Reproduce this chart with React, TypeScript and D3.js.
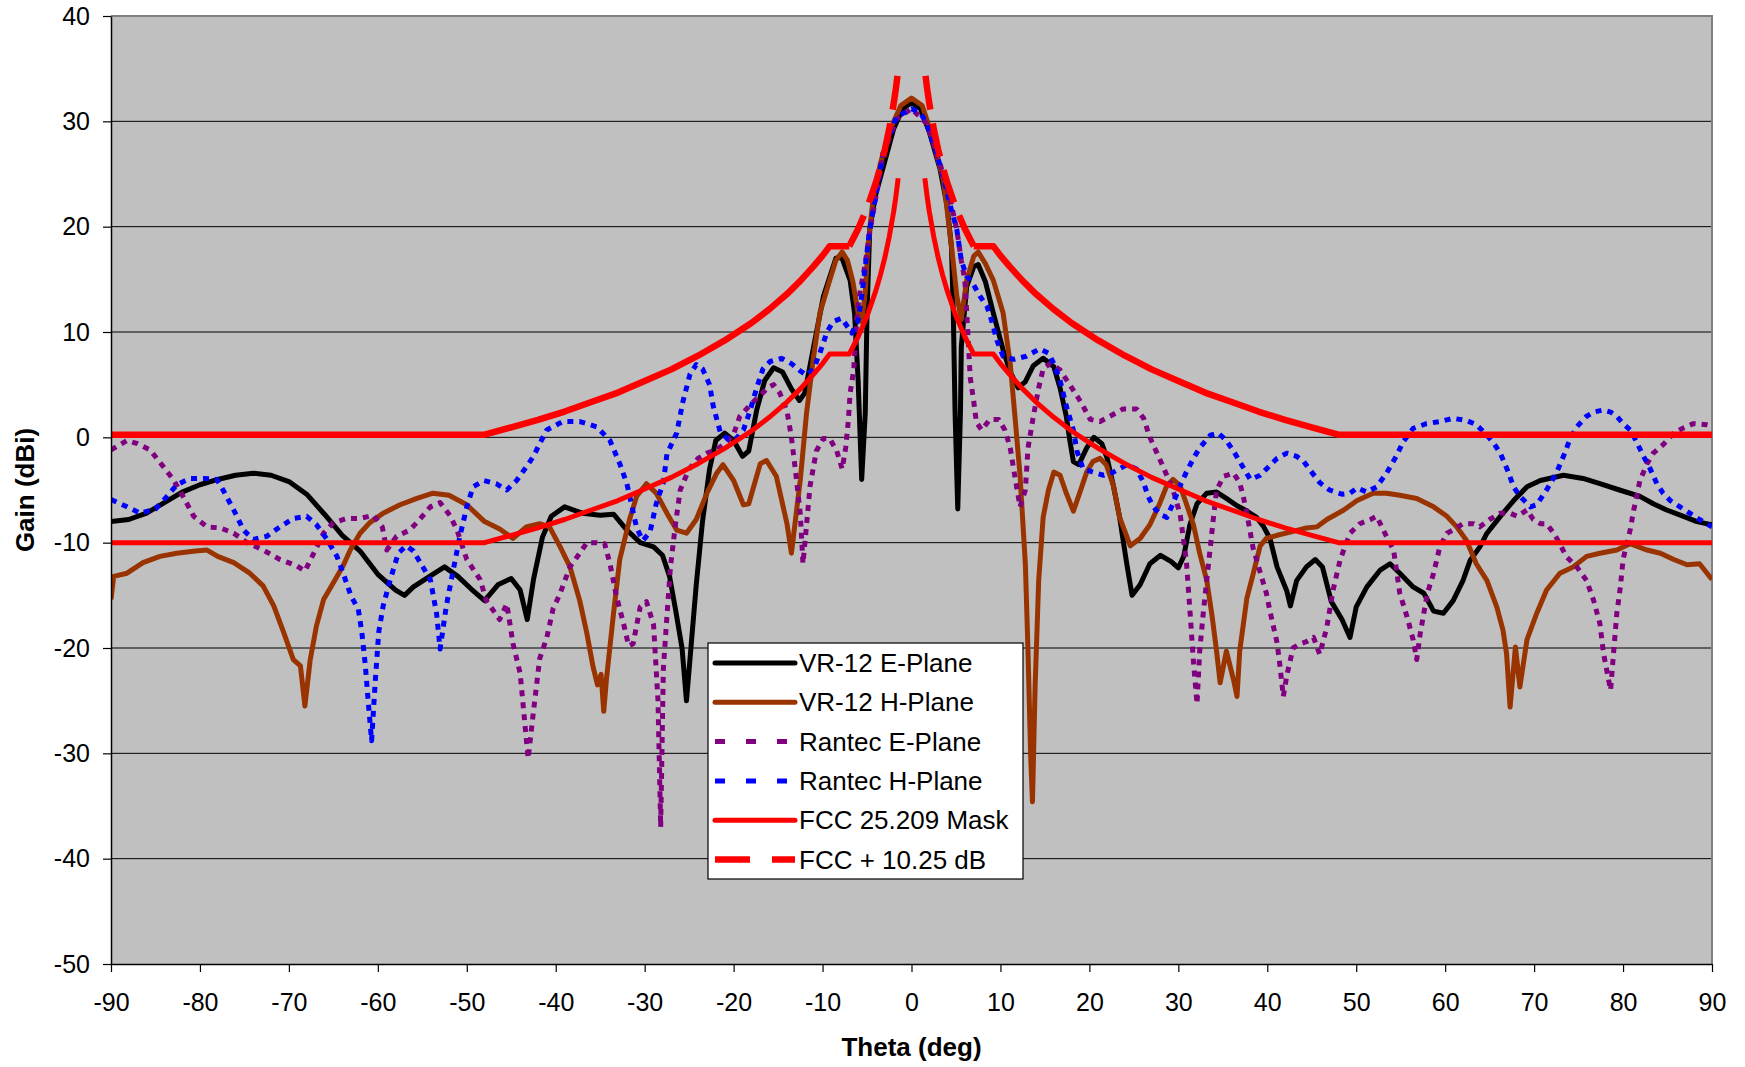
import React, { useEffect, useRef } from "react";
import * as d3 from "d3";

const thetaTicks = [-90, -80, -70, -60, -50, -40, -30, -20, -10, 0, 10, 20, 30, 40, 50, 60, 70, 80, 90];
const gainTicks = [-50, -40, -30, -20, -10, 0, 10, 20, 30, 40];

// [theta (deg), gain (dBi)]
const vr12EPlane: [number, number][] = [
  [-90, -8], [-88, -7.8], [-86, -7.2], [-84, -6.2], [-82, -5.2], [-80, -4.5], [-78, -4.0], [-76, -3.6], [-74, -3.4],
  [-72, -3.6], [-70, -4.2], [-68, -5.4], [-66, -7.3], [-64, -9.3], [-62, -10.8], [-60, -13.0], [-58, -14.5], [-57, -15.0],
  [-56, -14.2], [-54, -13.1], [-52.5, -12.3], [-51, -13.2], [-49.5, -14.4], [-48, -15.5], [-46.5, -14.0], [-45, -13.4],
  [-44, -14.5], [-43.2, -17.3], [-42.5, -13.5], [-41.5, -9.5], [-40.5, -7.5], [-39, -6.6], [-37, -7.2], [-35, -7.4],
  [-33.5, -7.3], [-32, -8.8], [-30.5, -10], [-29, -10.4], [-28, -11.2], [-27.2, -13.2], [-26.5, -16.5], [-25.8, -20],
  [-25.3, -25], [-24.8, -20], [-24.2, -14], [-23.5, -8], [-22.7, -3], [-22, -0.3], [-21, 0.4], [-20, -0.3], [-19, -1.8],
  [-18.3, -1.3], [-17.4, 2.6], [-16.5, 5.4], [-15.5, 6.6], [-14.5, 6.2], [-13.5, 4.6], [-12.6, 3.5], [-12, 4.2],
  [-11, 8.6], [-9.9, 13.4], [-8.5, 17], [-7.85, 17.1], [-6.9, 14.9], [-6.4, 11.8], [-6, 5.4], [-5.6, -4], [-5.2, 2.3],
  [-5, 11.8], [-4.7, 19.7], [-4.1, 22.8], [-3, 26.2], [-2, 29.3], [-1, 31.2], [0, 31.8], [1, 31.2], [2, 29], [3.2, 25.5],
  [4, 22], [4.5, 18], [4.7, 11.8], [4.9, 2.3], [5.2, -6.8], [5.5, 2.3], [5.6, 8.6], [6.2, 14.3], [7, 16.2], [7.5, 16.4],
  [8.3, 14.8], [9.2, 11.8], [10.3, 8.3], [11.1, 6.2], [12, 4.7], [12.8, 5.3], [13.7, 6.8], [14.8, 7.5], [16, 6.7],
  [16.7, 4.7], [17.4, 2], [17.8, -0.3], [18.2, -2.3], [18.8, -2.6], [19.7, -1], [20.5, 0], [21.4, -0.6], [22, -2],
  [22.7, -4.6], [23.4, -7.6], [24.2, -12], [24.8, -15], [25.7, -14], [26.8, -12], [28, -11.2], [29.2, -11.8], [30, -12.4],
  [30.6, -11.3], [31.3, -8.3], [32.1, -6.3], [33.2, -5.3], [34.3, -5.2], [35.4, -5.8], [36.6, -6.5], [37.7, -7],
  [38.8, -7.6], [39.6, -8.5], [40.3, -9.6], [41.1, -12.3], [42.2, -14.6], [42.6, -16], [43.3, -13.6], [44.4, -12.3],
  [45.4, -11.6], [46.2, -12.3], [47.2, -15.6], [48.4, -17.3], [49.3, -19], [50, -16.1], [51.2, -14.2], [52.7, -12.6],
  [53.8, -12], [54.9, -12.9], [56.4, -14.2], [57.6, -14.8], [58.7, -16.5], [59.8, -16.7], [60.9, -15.5], [62, -13.6],
  [62.8, -11.7], [63.9, -10.4], [64.7, -9.1], [66.2, -7.5], [67.7, -6], [69.2, -4.7], [70.7, -4.1], [73.3, -3.6],
  [75.5, -3.9], [77.4, -4.4], [79.6, -5], [81.9, -5.6], [83.4, -6.3], [84.9, -6.9], [86.8, -7.5], [88.3, -8], [90, -8.3],
];

const vr12HPlane: [number, number][] = [
  [-90, -15.4], [-89.7, -13.2], [-88.2, -12.9], [-86.4, -11.9], [-84.5, -11.3], [-82.6, -11], [-80.5, -10.8],
  [-79.2, -10.7], [-78, -11.3], [-76.2, -11.9], [-74.4, -12.9], [-72.9, -14.1], [-71.7, -16], [-70.6, -18.5],
  [-69.5, -21.1], [-68.7, -21.7], [-68.2, -25.5], [-67.6, -21.1], [-66.9, -17.9], [-66.1, -15.4], [-65, -13.8],
  [-63.9, -12.2], [-63.1, -10.7], [-62, -9.1], [-60.9, -8.1], [-59.4, -7.2], [-57.5, -6.4], [-55.6, -5.8], [-53.8, -5.3],
  [-52, -5.5], [-50, -6.4], [-48, -8], [-46.3, -8.7], [-44.8, -9.6], [-43.3, -8.5], [-41.8, -8.2], [-40.7, -8.5],
  [-39.5, -10.4], [-38.4, -12.3], [-37.3, -15.5], [-36.5, -18.6], [-35.8, -21.8], [-35.3, -23.5], [-34.9, -22.5],
  [-34.6, -26], [-34.3, -23], [-33.5, -16.7], [-32.8, -11.6], [-31.7, -7.8], [-30.9, -5.6], [-29.8, -4.4], [-28.7, -5.3],
  [-27.5, -7.2], [-26.4, -8.8], [-25.3, -9.1], [-24.2, -7.8], [-23, -5.3], [-21.9, -3.4], [-21.2, -2.6], [-20, -4.1],
  [-18.9, -6.4], [-18.3, -6.3], [-17, -2.5], [-16.3, -2.2], [-15.2, -3.7], [-14, -8.2], [-13.5, -11], [-13, -7.5],
  [-12.5, -4], [-11.8, 2.3], [-11, 7.7], [-10.3, 11.8], [-9.2, 14.9], [-8.5, 16.8], [-7.8, 17.6], [-7.2, 16.8],
  [-6.6, 14.8], [-6, 11.8], [-5.6, 11], [-5.2, 13.7], [-4.9, 18.1], [-4.3, 22.8], [-3.5, 26], [-2.4, 29.2], [-1.2, 31.5],
  [0, 32.2], [1.2, 31.5], [2.1, 29.2], [3.6, 24.4], [4.5, 18.1], [5.1, 13.4], [5.6, 11.2], [6.2, 14.9], [7, 17.2],
  [7.5, 17.6], [8.3, 16.5], [9.2, 14.9], [10.3, 11.8], [11.1, 7], [11.6, 2.3], [12.2, -3.6], [12.8, -12], [13.1, -20.3],
  [13.4, -30.3], [13.6, -34.6], [13.9, -23.6], [14.3, -13.6], [14.8, -7.6], [15.4, -5], [16, -3.3], [16.7, -3.6],
  [17.4, -5.3], [18.2, -7], [18.9, -5.3], [19.7, -3.3], [20.4, -2.3], [21.2, -2], [21.9, -2.6], [22.7, -4.6], [23.4, -7.6],
  [24.6, -10.3], [25.7, -9.6], [26.8, -8.3], [27.9, -6.3], [28.7, -4.6], [29.4, -4], [30.2, -4.6], [30.9, -6.3],
  [31.7, -8.3], [32.4, -11], [33.2, -13.6], [33.8, -17], [34.3, -20.3], [34.7, -23.3], [35.4, -20.3], [36.2, -23],
  [36.6, -24.6], [36.9, -20.3], [37.7, -15.3], [38.4, -13], [39.2, -10.3], [39.9, -9.6], [41.1, -9.3], [42.6, -9],
  [44.4, -8.6], [45.6, -8.5], [46.7, -7.8], [48.6, -6.9], [50.1, -6], [51.9, -5.3], [53.4, -5.3], [54.9, -5.5],
  [56.8, -5.8], [58.7, -6.6], [60.2, -7.5], [61.3, -8.5], [62.4, -9.8], [63.5, -12], [64.7, -13.6], [65.8, -16.1],
  [66.5, -18.3], [66.9, -20.5], [67.3, -25.6], [67.9, -19.9], [68.4, -23.7], [69.2, -19.2], [70.3, -16.7], [71.4, -14.5],
  [72.9, -12.9], [74.4, -12.3], [75.9, -11.3], [77.4, -11], [79.3, -10.7], [80.8, -10.1], [82.7, -10.7], [84.2, -11],
  [85.7, -11.6], [87.2, -12.1], [88.6, -12], [90, -13.5],
];

const rantecEPlane: [number, number][] = [
  [-90, -1.2], [-88.2, -0.3], [-87, -0.6], [-85.6, -1.2], [-84.1, -2.8], [-83, -4], [-81.9, -5.6], [-80.7, -7.5],
  [-79.2, -8.5], [-77.7, -8.6], [-76.2, -9.1], [-74.7, -10], [-72.9, -10.7], [-71, -11.6], [-69.1, -12.2], [-68.2, -12.7],
  [-67.2, -11], [-66.1, -9.1], [-65, -8.1], [-63.5, -7.7], [-62, -7.7], [-60.5, -7.4], [-59.5, -8.5], [-59, -10.7],
  [-57.9, -9.4], [-56.4, -8.8], [-55.3, -7.8], [-54.1, -6.6], [-53, -6.2], [-51.9, -7.4], [-51.1, -8.8], [-50, -11.6],
  [-48.5, -13.5], [-47.8, -15.5], [-46.3, -17.3], [-45.5, -15.8], [-44.8, -19.6], [-44, -22.4], [-43.1, -30.5],
  [-42.5, -26], [-41.8, -21], [-41, -19], [-40.3, -16.3], [-39.5, -14.8], [-38.4, -12.3], [-37.3, -11], [-36.5, -10],
  [-35.4, -10], [-34.5, -10.1], [-33.9, -12], [-33.2, -15], [-32.4, -17.6], [-31.8, -19.8], [-31.3, -19.6],
  [-30.5, -16.1], [-29.8, -15.6], [-29, -17.8], [-28.5, -25], [-28.2, -37], [-27.9, -22], [-27.5, -17], [-27.1, -12.3],
  [-26.5, -8], [-26, -5], [-25, -3], [-24, -2], [-23, -1.5], [-22, -1.2], [-21, -0.6], [-20, 0.3], [-19.3, 2],
  [-18, 3.2], [-17, 4], [-16, 4.8], [-15.5, 5], [-14.8, 4.2], [-14, 2.5], [-13.5, 0], [-13, -3.5], [-12.5, -7.3],
  [-12.2, -12], [-11.8, -8.3], [-11.4, -4.6], [-10.7, -1.3], [-9.9, -0.1], [-9.2, -0.1], [-8.4, -1.3], [-7.8, -3],
  [-7.4, -1], [-7.1, 1.6], [-6.9, 4.2], [-6.5, 6.4], [-6.1, 11.8], [-5.8, 13.7], [-5.2, 16.5], [-4.7, 19.5],
  [-3.9, 23.3], [-3.2, 26.8], [-1.7, 30.2], [0, 31.2], [1.7, 29.8], [3.2, 26], [4.3, 22.8], [5.1, 19.7], [5.6, 16.8],
  [6, 14.9], [6.2, 12], [6.6, 5.7], [7, 3.4], [7.3, 1.4], [7.9, 0.7], [8.8, 1.7], [9.8, 1.7], [10.5, 0.7], [11.1, -1],
  [11.6, -3.6], [12.2, -6.6], [12.8, -5], [13.1, -1], [13.7, 2], [14.3, 4.7], [14.8, 6.5], [15.6, 7], [16.7, 6.4],
  [17.8, 5], [19, 3.4], [20.1, 1.7], [21.2, 1.5], [22.3, 2], [23.8, 2.7], [25.3, 2.7], [26.1, 1.8], [26.8, 0],
  [27.6, -1.5], [28.3, -2.8], [29.4, -5], [30.2, -7.3], [30.9, -11.7], [31.3, -16.4], [31.7, -21.3], [32.1, -25.3],
  [32.4, -20.3], [32.8, -16.7], [33.2, -13.5], [33.6, -10.4], [33.9, -8], [34.3, -5], [35.1, -3.7], [36.2, -3.4],
  [36.9, -4.3], [37.3, -5.6], [37.7, -7.2], [38.4, -10.5], [39.2, -12.8], [39.9, -14.8], [40.3, -16.5], [41.1, -19.5],
  [41.4, -21.5], [41.8, -24.6], [42.2, -22.6], [42.9, -20], [43.7, -19.6], [44.4, -19.4], [45.2, -19], [45.9, -20.6],
  [46.7, -18], [47.4, -14.5], [48.2, -11.6], [49.3, -9.1], [50.4, -8.2], [51.6, -7.8], [52.3, -7.5], [53.4, -9.4],
  [54.2, -10.7], [54.9, -14.8], [55.7, -17], [56.4, -19.2], [56.8, -21.1], [57.2, -18.6], [57.6, -16.7], [58, -14.8],
  [58.7, -12.9], [59.4, -10.4], [60.2, -9.1], [60.9, -8.8], [62, -8.2], [63.2, -8.2], [63.9, -8.5], [65, -7.8],
  [66.2, -7.2], [67.3, -7.2], [68.1, -7.5], [69.2, -6.9], [69.9, -7.8], [70.7, -8.2], [71.4, -8.2], [72.2, -9.1],
  [72.9, -10.1], [73.6, -11.3], [74.8, -12.3], [75.9, -13.6], [76.7, -15.5], [77.4, -17.7], [77.8, -20.5], [78.6, -24],
  [78.9, -20.8], [79.3, -16.7], [79.7, -14.2], [80, -11.6], [80.8, -8.8], [81.2, -6.9], [81.9, -4.1], [82.7, -2.5],
  [83.4, -1.5], [84.5, -0.7], [85.7, 0.4], [86.8, 0.9], [87.9, 1.3], [89.4, 1.2], [90, 1.1],
];

const rantecHPlane: [number, number][] = [
  [-90, -5.9], [-88.2, -6.6], [-86.7, -7.2], [-85, -6.8], [-83.7, -5.6], [-82.6, -4.5], [-81.1, -3.9], [-79.6, -3.9],
  [-78.1, -4.0], [-77.4, -5], [-76.2, -6.9], [-75.1, -8.8], [-74, -9.7], [-72.5, -9.4], [-71, -8.5], [-69.5, -7.7],
  [-68, -7.5], [-66.9, -8.3], [-65.7, -9.7], [-64.6, -11.3], [-63.9, -12.9], [-63, -15.1], [-62.2, -16.3],
  [-61.8, -18.5], [-61.4, -21.7], [-61.1, -24.9], [-60.7, -28.8], [-60.3, -23.3], [-59.9, -18.5], [-59.4, -16],
  [-58.6, -13.5], [-57.7, -11], [-56.8, -10.3], [-56, -10.8], [-54.1, -13.5], [-53.4, -16.7], [-53, -20.1],
  [-52.3, -16], [-51.5, -12.5], [-50.8, -9.5], [-50, -6.6], [-49.3, -4.7], [-48.1, -4.1], [-46.7, -4.4], [-45.5, -5],
  [-44.4, -4.1], [-43.3, -2.8], [-42.5, -1.8], [-41.8, -0.6], [-41, 0.7], [-39.2, 1.5], [-37.3, 1.5], [-35.4, 1.0],
  [-33.9, -0.3], [-32.8, -2.5], [-32, -4.4], [-31.5, -6.3], [-30.9, -8.6], [-30.2, -9.8], [-29.4, -9], [-28.7, -6.3],
  [-27.9, -4.3], [-27.5, -1.6], [-26.4, 0.4], [-25.7, 3.4], [-24.9, 6], [-24.2, 6.9], [-23.5, 6.5], [-22.7, 5.0],
  [-22.3, 3.0], [-21.5, 0.5], [-20.6, -0.2], [-19.7, -0.1], [-18.9, 0.7], [-18.2, 2.4], [-17.4, 4.7], [-16.7, 6.5],
  [-15.9, 7.2], [-14.6, 7.5], [-13.5, 7.0], [-12.5, 6.3], [-11.8, 5.9], [-11, 6.5], [-10.3, 8], [-9.5, 10], [-8.8, 11],
  [-7.85, 11.3], [-6.7, 9.9], [-6, 11.1], [-5.6, 13.4], [-5.2, 16.2], [-4.7, 19.7], [-3.9, 23.5], [-3.2, 27],
  [-1.7, 30.4], [0, 31.2], [1, 30.8], [1.7, 29.8], [2.8, 27], [3.6, 24.7], [4.3, 22.2], [5.1, 19.7], [5.6, 16.8],
  [6.2, 15.3], [6.9, 14.6], [7.7, 13.4], [8.5, 12.4], [9, 11.1], [9.6, 9.2], [10.3, 7.7], [11.5, 7.4], [12.9, 7.7],
  [14.4, 8.4], [15.4, 8], [16, 7], [16.7, 5.4], [17.4, 3], [18.2, 0.7], [18.6, -1.3], [19.3, -3], [20.4, -3.3],
  [21.6, -3.6], [22.7, -3.3], [24.2, -2.6], [25.3, -3], [26.1, -4.3], [26.6, -5.6], [27.2, -6.6], [27.9, -7.3],
  [28.7, -7.6], [29.4, -6.3], [30.2, -4.6], [30.9, -3.3], [31.7, -2], [32.4, -1], [33.6, 0.2], [34.5, 0.4], [35.4, -0.3],
  [36.2, -1.3], [36.9, -2.3], [38.1, -4], [39.2, -3.6], [39.9, -3], [41.1, -2], [42.2, -1.5], [43.3, -1.8], [44.1, -2.3],
  [44.8, -3.1], [45.9, -4.3], [47, -5], [48.4, -5.4], [49.3, -5.3], [50.1, -4.8], [51.2, -5.2], [52.3, -4.7],
  [53.4, -3.4], [54.5, -1.8], [55.3, -0.4], [56.4, 0.85], [57.9, 1.3], [59.4, 1.5], [60.9, 1.8], [62.4, 1.6], [63.5, 1.2],
  [64.7, 0.2], [65.5, -0.6], [66.2, -1.5], [67, -3.1], [67.7, -4.7], [68.4, -5.6], [69.6, -6.6], [70.3, -6.4], [71.4, -5],
  [72.5, -3.4], [73.3, -1.8], [74, -0.25], [74.8, 1], [75.9, 2], [76.7, 2.4], [77.8, 2.6], [78.6, 2.4], [79.3, 2],
  [80, 1.3], [80.8, 0.7], [81.5, -0.4], [82.3, -1.8], [83, -2.9], [83.8, -4.4], [84.5, -5.3], [85.3, -6], [86.4, -6.6],
  [87.5, -7.2], [88.6, -7.8], [90, -8.5],
];

const fccMask: [number, number][] = [
  [-90, -10], [-48, -10], [-45, -9.3], [-42, -8.6], [-39, -7.8], [-36, -6.9], [-33, -6.0], [-30, -4.9], [-27, -3.8],
  [-24, -2.5], [-21, -1.05], [-18, 0.6], [-16, 1.9], [-14, 3.35], [-12.5, 4.6], [-11, 6.0], [-10, 7.0], [-9.2, 7.9],
  [-7, 7.9], [-6, 9.55], [-5, 11.5], [-4, 13.95], [-3.5, 15.4], [-3, 17.05], [-2.5, 19.05], [-2, 21.45], [-1.75, 22.9],
  [-1.5, 24.6],
  [1.5, 24.6], [1.75, 22.9], [2, 21.45], [2.5, 19.05], [3, 17.05], [3.5, 15.4], [4, 13.95], [5, 11.5], [6, 9.55],
  [7, 7.9], [9.2, 7.9], [10, 7.0], [11, 6.0], [12.5, 4.6], [14, 3.35], [16, 1.9], [18, 0.6], [21, -1.05], [24, -2.5],
  [27, -3.8], [30, -4.9], [33, -6.0], [36, -6.9], [39, -7.8], [42, -8.6], [45, -9.3], [48, -10], [90, -10],
];

const fccPlus1025: [number, number][] = [
  [-90, 0.25], [-48, 0.25], [-45, 0.95], [-42, 1.65], [-39, 2.45], [-36, 3.35], [-33, 4.25], [-30, 5.35], [-27, 6.45],
  [-24, 7.75], [-21, 9.2], [-18, 10.85], [-16, 12.15], [-14, 13.6], [-12.5, 14.85], [-11, 16.25], [-10, 17.25],
  [-9.2, 18.15], [-7, 18.15], [-6, 19.8], [-5, 21.75], [-4, 24.2], [-3.5, 25.65], [-3, 27.3], [-2.5, 29.3], [-2, 31.7],
  [-1.75, 33.15], [-1.5, 34.85],
  [1.5, 34.85], [1.75, 33.15], [2, 31.7], [2.5, 29.3], [3, 27.3], [3.5, 25.65], [4, 24.2], [5, 21.75], [6, 19.8],
  [7, 18.15], [9.2, 18.15], [10, 17.25], [11, 16.25], [12.5, 14.85], [14, 13.6], [16, 12.15], [18, 10.85], [21, 9.2],
  [24, 7.75], [27, 6.45], [30, 5.35], [33, 4.25], [36, 3.35], [39, 2.45], [42, 1.65], [45, 0.95], [48, 0.25], [90, 0.25],
];

const legendNames = ["VR-12 E-Plane", "VR-12 H-Plane", "Rantec E-Plane", "Rantec H-Plane", "FCC 25.209 Mask", "FCC + 10.25 dB"];

const FONT = "'Liberation Sans', Arial, Helvetica, sans-serif";

export default function App() {
  const ref = useRef<SVGSVGElement>(null);

  useEffect(() => {
    const W = 1745;
    const H = 1067;
    const margin = { top: 16, right: 33, bottom: 103, left: 111 };
    const width = W - margin.left - margin.right;
    const height = H - margin.top - margin.bottom;

    const x = d3.scaleLinear().domain([-90, 90]).range([0, width]);
    const y = d3.scaleLinear().domain([-50, 40]).range([height, 0]);

    const svg = d3.select(ref.current);
    svg.selectAll("*").remove();

    const g = svg.append("g").attr("transform", `translate(${margin.left},${margin.top})`);

    g.append("rect").attr("width", width).attr("height", height).attr("fill", "#c0c0c0");

    g.append("clipPath").attr("id", "plot-clip").append("rect").attr("width", width).attr("height", height);

    // horizontal gridlines
    g.selectAll(".grid")
      .data(gainTicks.filter((v) => v > -50 && v < 40))
      .enter()
      .append("line")
      .attr("x1", 0)
      .attr("x2", width)
      .attr("y1", (d) => y(d))
      .attr("y2", (d) => y(d))
      .attr("stroke", "#000")
      .attr("stroke-width", 1);

    // top and right border (grey)
    g.append("path")
      .attr("d", `M0,${y(40)}H${x(90)}V${y(-50)}`)
      .attr("fill", "none")
      .attr("stroke", "#808080")
      .attr("stroke-width", 2);

    const line = d3
      .line<[number, number]>()
      .x((d) => x(d[0]))
      .y((d) => y(d[1]));

    const plot = g.append("g").attr("clip-path", "url(#plot-clip)");

    const series = [
      { data: vr12EPlane, color: "#000000", width: 5, dash: null as string | null },
      { data: vr12HPlane, color: "#993300", width: 5, dash: null },
      { data: rantecEPlane, color: "#800080", width: 5, dash: "6,6" },
      { data: rantecHPlane, color: "#0000ff", width: 5, dash: "6,6" },
    ];

    series.forEach((s) => {
      plot
        .append("path")
        .attr("d", line(s.data))
        .attr("fill", "none")
        .attr("stroke", s.color)
        .attr("stroke-width", s.width)
        .attr("stroke-linejoin", "round")
        .attr("stroke-dasharray", s.dash);
    });

    // FCC mask: left and right halves (no value for |theta| < 1.5)
    const halves = (data: [number, number][]) => [data.filter((d) => d[0] < 0), data.filter((d) => d[0] > 0)];

    halves(fccMask).forEach((h) => {
      plot
        .append("path")
        .attr("d", line(h))
        .attr("fill", "none")
        .attr("stroke", "#ff0000")
        .attr("stroke-width", 5)
        .attr("stroke-linejoin", "round");
    });

    halves(fccPlus1025).forEach((h) => {
      const outer = h.filter((d) => Math.abs(d[0]) >= 7);
      const inner = h.filter((d) => Math.abs(d[0]) <= 7);
      plot
        .append("path")
        .attr("d", line(outer))
        .attr("fill", "none")
        .attr("stroke", "#ff0000")
        .attr("stroke-width", 6.5)
        .attr("stroke-linejoin", "round");
      const innerOrdered = inner[0][0] < 0 ? inner : inner.slice().reverse();
      plot
        .append("path")
        .attr("d", line(innerOrdered))
        .attr("fill", "none")
        .attr("stroke", "#ff0000")
        .attr("stroke-width", 6.5)
        .attr("stroke-dasharray", "34,14");
    });

    // axes
    const yAxis = g
      .append("g")
      .call(
        d3
          .axisLeft(y)
          .tickValues(gainTicks)
          .tickSize(8)
          .tickSizeOuter(0)
          .tickPadding(13)
          .tickFormat((d) => String(d))
      );
    yAxis.select(".domain").attr("stroke", "#000").attr("stroke-width", 1.5);
    yAxis.selectAll(".tick line").attr("stroke", "#000").attr("stroke-width", 1.2);
    yAxis.selectAll("text").attr("font-family", FONT).attr("font-size", 25).attr("fill", "#000");

    const xAxis = g
      .append("g")
      .attr("transform", `translate(0,${height})`)
      .call(
        d3
          .axisBottom(x)
          .tickValues(thetaTicks)
          .tickSize(8)
          .tickSizeOuter(0)
          .tickPadding(21)
          .tickFormat((d) => String(d))
      );
    xAxis.select(".domain").attr("stroke", "#000").attr("stroke-width", 1.5);
    xAxis.selectAll(".tick line").attr("stroke", "#000").attr("stroke-width", 1.2);
    xAxis.selectAll("text").attr("font-family", FONT).attr("font-size", 25).attr("fill", "#000");

    // axis titles
    svg
      .append("text")
      .attr("transform", `translate(34,${margin.top + height / 2}) rotate(-90)`)
      .attr("text-anchor", "middle")
      .attr("font-family", FONT)
      .attr("font-weight", "bold")
      .attr("font-size", 26)
      .text("Gain (dBi)");

    svg
      .append("text")
      .attr("x", margin.left + width / 2)
      .attr("y", 1056)
      .attr("text-anchor", "middle")
      .attr("font-family", FONT)
      .attr("font-weight", "bold")
      .attr("font-size", 26)
      .text("Theta (deg)");

    // legend
    const legend = svg.append("g").attr("transform", "translate(708,643)");
    legend
      .append("rect")
      .attr("width", 315)
      .attr("height", 236)
      .attr("fill", "#fff")
      .attr("stroke", "#000")
      .attr("stroke-width", 1.2);

    const legendStyles = [
      { color: "#000000", width: 5, dash: null as string | null },
      { color: "#993300", width: 5, dash: null },
      { color: "#800080", width: 5, dash: "10,21" },
      { color: "#0000ff", width: 5, dash: "10,21" },
      { color: "#ff0000", width: 5, dash: null },
      { color: "#ff0000", width: 6.5, dash: "35,22" },
    ];

    legendNames.forEach((name, i) => {
      const cy = 20 + i * 39.3;
      const st = legendStyles[i];
      legend
        .append("line")
        .attr("x1", 7)
        .attr("x2", 87)
        .attr("y1", cy)
        .attr("y2", cy)
        .attr("stroke", st.color)
        .attr("stroke-width", st.width)
        .attr("stroke-linecap", st.dash ? "butt" : "round")
        .attr("stroke-dasharray", st.dash);
      legend
        .append("text")
        .attr("x", 91)
        .attr("y", cy)
        .attr("dy", "0.35em")
        .attr("font-family", FONT)
        .attr("font-size", 26)
        .attr("fill", "#000")
        .text(name);
    });
  }, []);

  return (
    <svg
      ref={ref}
      width={1745}
      height={1067}
      style={{ position: "absolute", left: 0, top: 0, background: "#fff" }}
    />
  );
}
